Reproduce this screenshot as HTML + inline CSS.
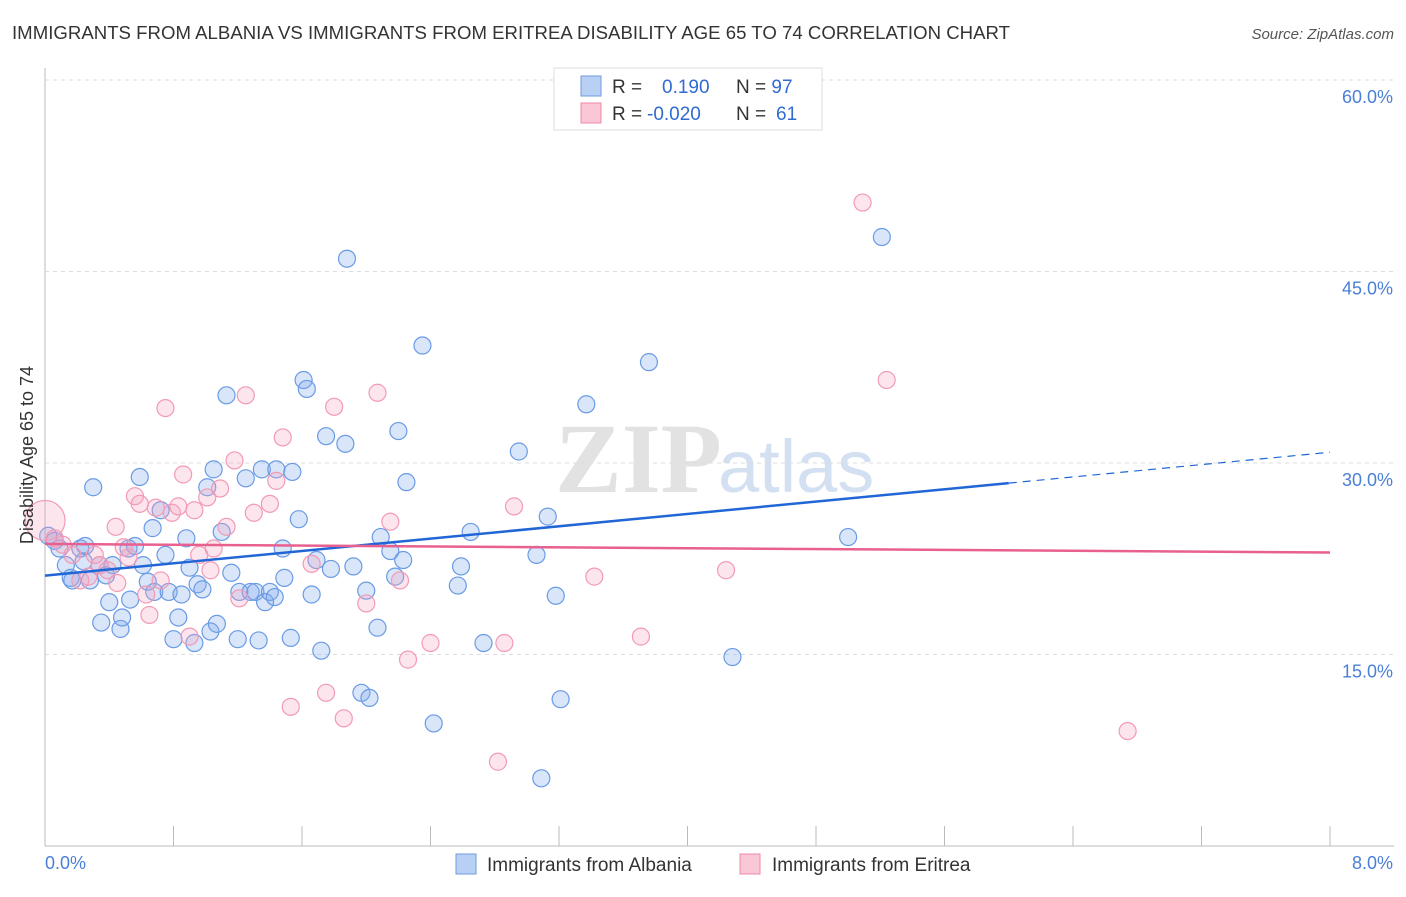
<!DOCTYPE html>
<html><head><meta charset="utf-8"><style>
body{margin:0;background:#fff;font-family:"Liberation Sans",sans-serif;}
</style></head><body>
<svg id="c" width="1406" height="892" xmlns="http://www.w3.org/2000/svg">
<text x="12" y="39" font-size="18.6" fill="#333" textLength="998">IMMIGRANTS FROM ALBANIA VS IMMIGRANTS FROM ERITREA DISABILITY AGE 65 TO 74 CORRELATION CHART</text>
<text x="1394" y="39" font-size="15" fill="#555" font-style="italic" text-anchor="end">Source: ZipAtlas.com</text>
<text x="555" y="492" font-size="100" fill="#e2e2e2" font-family="Liberation Serif" font-weight="bold">ZIP</text>
<text x="718" y="492" font-size="74" fill="#d3e0f2">atlas</text>
<g id="grid"></g><g id="pts"></g><g id="lines"></g>
<text transform="translate(33,455) rotate(-90)" font-size="18" fill="#333" text-anchor="middle">Disability Age 65 to 74</text>
<g>
<rect x="554" y="68" width="268" height="62" fill="#fff" stroke="#ddd"/>
<rect x="581" y="76" width="20" height="20" fill="#b9d0f5" stroke="#6f9be0"/>
<rect x="581" y="103" width="20" height="20" fill="#f9c7d6" stroke="#f08aaa"/>
<text x="612" y="93" font-size="19" fill="#333">R = <tspan fill="#2f6bd0" x="662">0.190</tspan><tspan x="736">N = </tspan><tspan fill="#2f6bd0">97</tspan></text>
<text x="612" y="120" font-size="19" fill="#333">R = <tspan fill="#2f6bd0" x="647">-0.020</tspan><tspan x="736">N = </tspan><tspan fill="#2f6bd0" x="776">61</tspan></text>
</g>
<g>
<rect x="456" y="854" width="20" height="20" fill="#b9d0f5" stroke="#6f9be0"/>
<text x="487" y="871" font-size="19" fill="#333">Immigrants from Albania</text>
<rect x="740" y="854" width="20" height="20" fill="#f9c7d6" stroke="#f08aaa"/>
<text x="772" y="871" font-size="19" fill="#333">Immigrants from Eritrea</text>
</g>
</svg>
<script>
const xTicks=[0,0.8,1.6,2.4,3.2,4,4.8,5.6,6.4,7.2,8];
const yTicks=[15,30,45,60];
const yTickLabels=["15.0%","30.0%","45.0%","60.0%"];
const blueX=[0.02,0.06,0.09,0.13,0.16,0.17,0.22,0.24,0.25,0.28,0.30,0.34,0.35,0.38,0.40,0.42,0.47,0.48,0.52,0.53,0.56,0.59,0.61,0.64,0.67,0.68,0.72,0.75,0.77,0.80,0.83,0.85,0.88,0.90,0.93,0.95,0.98,1.01,1.03,1.05,1.07,1.10,1.13,1.16,1.20,1.21,1.25,1.28,1.31,1.33,1.35,1.37,1.40,1.43,1.44,1.48,1.49,1.53,1.54,1.58,1.61,1.63,1.66,1.69,1.72,1.75,1.78,1.87,1.88,1.92,1.97,2.00,2.02,2.07,2.09,2.15,2.18,2.20,2.23,2.25,2.35,2.42,2.57,2.59,2.65,2.73,2.95,3.06,3.09,3.13,3.18,3.21,3.37,3.76,4.28,5.00,5.21];
const blueY=[24.3,23.9,23.3,22.0,21.0,20.8,23.3,22.3,23.5,20.8,28.1,22.0,17.5,21.2,19.1,22.0,17.0,17.9,23.3,19.3,23.5,28.9,22.0,20.7,24.9,19.9,26.3,22.8,19.9,16.2,17.9,19.7,24.1,21.8,15.9,20.5,20.1,28.1,16.8,29.5,17.4,24.6,35.3,21.4,16.2,19.9,28.8,19.9,19.9,16.1,29.5,19.1,19.9,19.5,29.5,23.3,21.0,16.3,29.3,25.6,36.5,35.8,19.7,22.4,15.3,32.1,21.7,31.5,46.0,21.9,12.0,20.0,11.6,17.1,24.2,23.1,21.1,32.5,22.4,28.5,39.2,9.6,20.4,21.9,24.6,15.9,30.9,22.8,5.3,25.8,19.6,11.5,34.6,37.9,14.8,24.2,47.7];
const pinkX=[0.00,0.06,0.11,0.17,0.22,0.27,0.31,0.34,0.39,0.44,0.45,0.49,0.52,0.56,0.59,0.63,0.65,0.69,0.72,0.75,0.79,0.83,0.86,0.90,0.93,0.96,1.01,1.03,1.05,1.09,1.13,1.18,1.21,1.25,1.30,1.40,1.44,1.48,1.53,1.66,1.75,1.80,1.86,2.00,2.07,2.15,2.21,2.26,2.40,2.82,2.86,2.92,3.42,3.71,4.24,5.09,5.24,6.74];
const pinkY=[25.5,24.1,23.6,22.8,20.8,21.1,22.8,22.0,21.6,25.0,20.6,23.4,22.6,27.4,26.8,19.7,18.1,26.5,20.8,34.3,26.1,26.6,29.1,16.4,26.3,22.8,27.3,21.6,23.3,28.0,25.0,30.2,19.4,35.3,26.1,26.8,28.6,32.0,10.9,22.1,12.0,34.4,10.0,19.0,35.5,25.4,20.8,14.6,15.9,6.6,15.9,26.6,21.1,16.4,21.6,50.4,36.5,9.0];
const SVGNS="http://www.w3.org/2000/svg";
const X0=45,X1=1330,Y0=846,PX=12.767;
function sx(v){return X0+(v-xTicks[0])/(xTicks[xTicks.length-1]-xTicks[0])*(X1-X0);}
function sy(v){return Y0-v*PX;}
function mk(tag,attrs,parent){const e=document.createElementNS(SVGNS,tag);for(const k in attrs)e.setAttribute(k,attrs[k]);parent.appendChild(e);return e;}
const grid=document.getElementById('grid');
let ax=mk('line',{x1:45,y1:68,x2:45,y2:846,stroke:'#bbb'},grid);


let bx=mk('line',{x1:45,y1:846,x2:1394,y2:846,stroke:'#bbb'},grid);


yTicks.forEach((t,i)=>{
 const g=mk('line',{x1:45,y1:sy(t),x2:1394,y2:sy(t),stroke:'#ddd','stroke-dasharray':'4,4'},grid);
 
 
 const tx=mk('text',{x:1393,y:sy(t)+23,'font-size':18,fill:'#4a7fd6','text-anchor':'end'},grid);
 tx.textContent=yTickLabels[i];
 
 
});
xTicks.forEach(t=>{
 const l=mk('line',{x1:sx(t),y1:826,x2:sx(t),y2:846,stroke:'#bbb'},grid);
 
 
});
let xl=mk('text',{x:45,y:869,'font-size':18,fill:'#4a7fd6'},grid);xl.textContent='0.0%';


let xr=mk('text',{x:1393,y:869,'font-size':18,fill:'#4a7fd6','text-anchor':'end'},grid);xr.textContent='8.0%';


const pts=document.getElementById('pts');
blueX.forEach((v,i)=>{
 const c=mk('circle',{cx:sx(v),cy:sy(blueY[i]),r:8.5,fill:'rgba(130,170,235,0.3)',stroke:'#6a9be5','stroke-width':1.2},pts);
 
 
});
pinkX.forEach((v,i)=>{
 const c=mk('circle',{cx:sx(v),cy:sy(pinkY[i]),r:i==0?20:8.5,fill:'rgba(245,160,190,0.28)',stroke:'#f29ab6','stroke-width':1.2},pts);
 
 
});
function fit(xs,ys){const n=xs.length;let mx=0,my=0;xs.forEach((v,i)=>{mx+=v;my+=ys[i];});mx/=n;my/=n;let a=0,b=0;xs.forEach((v,i)=>{a+=(v-mx)*(ys[i]-my);b+=(v-mx)*(v-mx);});const s=a/b;return [s,my-s*mx];}
const lines=document.getElementById('lines');
const bf=fit(blueX,blueY),pf=fit(pinkX,pinkY);
const bend=6.0;
let l1=mk('line',{x1:sx(0),y1:sy(bf[1]),x2:sx(bend),y2:sy(bf[1]+bf[0]*bend),stroke:'#2166d6','stroke-width':2.5},lines);


let l2=mk('line',{x1:sx(bend),y1:sy(bf[1]+bf[0]*bend),x2:sx(8),y2:sy(bf[1]+bf[0]*8),stroke:'#2166d6','stroke-width':1.2,'stroke-dasharray':'8,6'},lines);


let l3=mk('line',{x1:sx(0),y1:sy(pf[1]),x2:sx(8),y2:sy(pf[1]+pf[0]*8),stroke:'#e8608f','stroke-width':2.5},lines);


</script>
</body></html>
